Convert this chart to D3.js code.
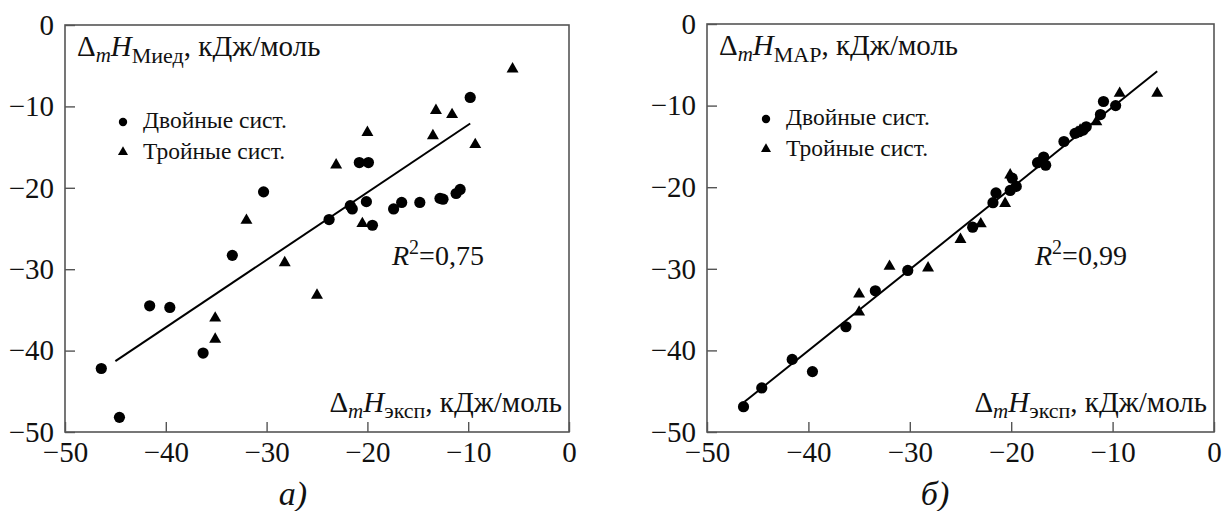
<!DOCTYPE html>
<html>
<head>
<meta charset="utf-8">
<script src="https://cdn.jsdelivr.net/npm/d3@7"></script>
<style>
  body { margin: 0; background: #fff; }
</style>
</head>
<body>
<div id="chart"></div>
<script>
// оси одинаковые у обеих панелей
var tickVals = [0, -10, -20, -30, -40, -50];

// а) Миед против эксп
var binA = [
  [-46.4, -42.2], [-44.6, -48.2], [-41.6, -34.5], [-39.6, -34.7], [-36.3, -40.3],
  [-33.4, -28.3], [-30.3, -20.5], [-23.8, -23.9], [-21.7, -22.2], [-21.5, -22.6],
  [-20.8, -16.9], [-19.9, -16.9], [-20.1, -21.7], [-19.5, -24.6], [-17.4, -22.6],
  [-16.6, -21.8], [-14.8, -21.8], [-12.8, -21.3], [-12.5, -21.4], [-11.2, -20.7],
  [-10.8, -20.2], [-9.8, -8.9]
];
var terA = [
  [-35.1, -36.0], [-35.1, -38.6], [-32.0, -24.0], [-28.2, -29.2], [-25.0, -33.2],
  [-23.1, -17.2], [-20.5, -24.4], [-20.0, -13.2], [-13.5, -13.6], [-13.2, -10.5],
  [-11.6, -11.0], [-9.3, -14.7], [-5.6, -5.4]
];
var fitA = [[-45.0, -41.3], [-9.8, -12.1]];

// б) МАР против эксп
var binB = [
  [-46.4, -46.9], [-44.6, -44.6], [-41.6, -41.1], [-39.6, -42.6], [-36.3, -37.1],
  [-33.4, -32.7], [-30.2, -30.2], [-23.8, -24.9], [-21.8, -21.9], [-21.5, -20.7],
  [-20.1, -20.4], [-19.5, -19.9], [-19.9, -18.9], [-17.4, -17.0], [-16.8, -16.3],
  [-16.6, -17.3], [-14.8, -14.4], [-13.7, -13.4], [-13.3, -13.2], [-12.9, -13.0],
  [-12.6, -12.6], [-11.2, -11.1], [-10.9, -9.5], [-9.7, -10.0]
];
var terB = [
  [-35.0, -33.1], [-35.0, -35.3], [-32.0, -29.7], [-28.2, -29.9], [-25.0, -26.4],
  [-23.0, -24.5], [-20.6, -22.0], [-20.1, -18.5], [-13.5, -13.3], [-13.2, -13.0],
  [-11.6, -12.0], [-9.3, -8.5], [-5.6, -8.5]
];
var fitB = [[-46.3, -46.3], [-5.6, -5.8]];

var legendNames = ["Двойные сист.", "Тройные сист."];

var FONT = "'Liberation Serif', 'DejaVu Serif', serif";
var W = 1224, H = 511;
var svg = d3.select("#chart").append("svg")
  .attr("width", W)
  .attr("height", H)
  .attr("font-family", FONT);

var tri = d3.symbol().type(d3.symbolTriangle);

function drawPanel(p) {
  var x = d3.scaleLinear().domain([-50, 0]).range([p.left, p.right]);
  var y = d3.scaleLinear().domain([-50, 0]).range([p.bottom, p.top]);
  var g = svg.append("g");

  var xAx = g.append("g")
    .attr("transform", "translate(0," + p.bottom + ")")
    .call(d3.axisBottom(x).tickValues(tickVals).tickSize(-10).tickPadding(9).tickFormat(d3.format("d")));
  var yAx = g.append("g")
    .attr("transform", "translate(" + p.left + ",0)")
    .call(d3.axisLeft(y).tickValues(tickVals).tickSize(-10).tickPadding(11).tickFormat(d3.format("d")));

  [xAx, yAx].forEach(function (a) {
    a.select(".domain").remove();
    a.selectAll(".tick line").attr("stroke", "#555").attr("stroke-width", 1.4);
    a.selectAll(".tick text")
      .style("font-family", FONT)
      .style("font-size", "29px")
      .style("fill", "#111");
  });

  g.append("rect")
    .attr("x", p.left).attr("y", p.top)
    .attr("width", p.right - p.left).attr("height", p.bottom - p.top)
    .attr("fill", "none").attr("stroke", "#555").attr("stroke-width", 1.6);

  // линия регрессии
  g.append("path")
    .datum(p.fit)
    .attr("d", d3.line().x(function (d) { return x(d[0]); }).y(function (d) { return y(d[1]); }))
    .attr("stroke", "#000").attr("stroke-width", 2).attr("fill", "none");

  g.selectAll(".bin").data(p.bin).enter()
    .append("circle")
    .attr("cx", function (d) { return x(d[0]); })
    .attr("cy", function (d) { return y(d[1]); })
    .attr("r", 5.6)
    .attr("fill", "#000");

  g.selectAll(".ter").data(p.ter).enter()
    .append("path")
    .attr("d", tri.size(62))
    .attr("transform", function (d) { return "translate(" + x(d[0]) + "," + y(d[1]) + ")"; })
    .attr("fill", "#000");

  // подпись оси Y
  var yl = g.append("text")
    .attr("x", p.left + 12).attr("y", p.top + 31)
    .attr("fill", "#111").attr("font-size", 29);
  yl.append("tspan").text("Δ");
  yl.append("tspan").attr("dy", 6).attr("font-size", 21).attr("font-style", "italic").text("m");
  yl.append("tspan").attr("dy", -6).attr("font-style", "italic").text("H");
  yl.append("tspan").attr("dy", 7).attr("font-size", 22).text(p.sub);
  yl.append("tspan").attr("dy", -7).text(", кДж/моль");

  // подпись оси X
  var xl = g.append("text")
    .attr("x", p.right - 7).attr("y", p.bottom - 20)
    .attr("text-anchor", "end")
    .attr("fill", "#111").attr("font-size", 29);
  xl.append("tspan").text("Δ");
  xl.append("tspan").attr("dy", 6).attr("font-size", 21).attr("font-style", "italic").text("m");
  xl.append("tspan").attr("dy", -6).attr("font-style", "italic").text("H");
  xl.append("tspan").attr("dy", 6).attr("font-size", 22).text("эксп");
  xl.append("tspan").attr("dy", -6).text(", кДж/моль");

  // R²
  var r2 = g.append("text")
    .attr("x", p.r2x).attr("y", 265)
    .attr("fill", "#111").attr("font-size", 28);
  r2.append("tspan").attr("font-style", "italic").text("R");
  r2.append("tspan").attr("dy", -11).attr("font-size", 20).text("2");
  r2.append("tspan").attr("dy", 11).text("=" + p.r2);

  // легенда
  var lg = g.append("g").attr("transform", "translate(" + p.legX + "," + p.legY + ")");
  lg.append("circle").attr("cx", 0).attr("cy", 0).attr("r", 4.2).attr("fill", "#000");
  lg.append("path").attr("d", tri.size(44)).attr("transform", "translate(0,30)").attr("fill", "#000");
  lg.selectAll("text").data(legendNames).enter()
    .append("text")
    .attr("x", 20)
    .attr("y", function (d, i) { return 6 + i * 31; })
    .attr("fill", "#111").attr("font-size", 23.5)
    .text(function (d) { return d; });

  g.append("text")
    .attr("x", p.left + 228).attr("y", 505)
    .attr("text-anchor", "middle")
    .attr("fill", "#111").attr("font-size", 34).attr("font-style", "italic")
    .text(p.tag);
}

drawPanel({ left: 65, right: 569, top: 25, bottom: 432, bin: binA, ter: terA, fit: fitA,
  sub: "Миед", r2: "0,75", r2x: 392, legX: 123, legY: 122, tag: "а)" });
drawPanel({ left: 707, right: 1214, top: 24, bottom: 432, bin: binB, ter: terB, fit: fitB,
  sub: "МАР", r2: "0,99", r2x: 1035, legX: 766, legY: 119, tag: "б)" });
</script>
</body>
</html>
